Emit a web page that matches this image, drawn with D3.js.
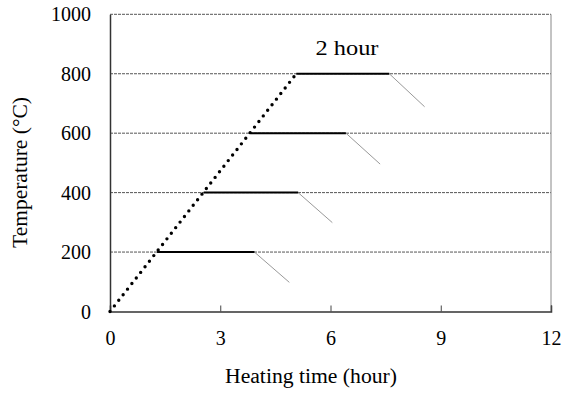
<!DOCTYPE html>
<html>
<head>
<meta charset="utf-8">
<script src="https://cdn.jsdelivr.net/npm/d3@7/dist/d3.min.js"></script>
<style>
  html, body { margin: 0; padding: 0; background: #fff; }
  svg { display: block; }
  text { font-family: "Liberation Serif", "Times New Roman", serif; fill: #000; }
</style>
</head>
<body>
<svg id="chart" width="563" height="393"></svg>
<script>
// Heating schedule: constant-rate ramp, then a hold at each target temperature, then cooling
const rampTime = [0, 5.07];
const rampTemp = [0, 800];
const holdTemps = [200, 400, 600, 800];
const holdStart = [1.28, 2.55, 3.83, 5.07];
const holdEnd = [3.93, 5.12, 6.42, 7.60];
const coolEndTime = [4.88, 6.05, 7.35, 8.56];
const coolEndTemp = [98, 299, 496, 689];
const xTicks = [0, 3, 6, 9, 12];
const yTicks = [0, 200, 400, 600, 800, 1000];
const holdLabel = "2 hour";

const svg = d3.select("#chart");
const plot = { left: 110, right: 551, top: 14.3, bottom: 311.5 };

const x = d3.scaleLinear().domain([0, 12]).range([plot.left, plot.right]);
const y = d3.scaleLinear().domain([0, 1000]).range([plot.bottom, plot.top]);

// dashed horizontal grid lines
svg.append("g").selectAll("line")
  .data(yTicks.filter(d => d > 0))
  .join("line")
  .attr("x1", plot.left).attr("x2", plot.right)
  .attr("y1", d => y(d)).attr("y2", d => y(d))
  .attr("stroke", "#555").attr("stroke-width", 1)
  .attr("stroke-dasharray", "3,1");

// right frame edge
svg.append("line")
  .attr("x1", plot.right).attr("x2", plot.right).attr("y1", plot.top).attr("y2", plot.bottom)
  .attr("stroke", "#888").attr("stroke-width", 1);

// x axis with inward ticks
const xAxis = svg.append("g")
  .attr("transform", `translate(0,${plot.bottom})`)
  .call(d3.axisBottom(x).tickValues(xTicks).tickSize(-6).tickPadding(0).tickFormat(d3.format("d")));
xAxis.select(".domain").attr("stroke", "#333").attr("stroke-width", 1.5);
xAxis.selectAll(".tick line").attr("stroke", "#444");
xAxis.selectAll(".tick text")
  .attr("y", 33.5).attr("dy", 0)
  .style("font-size", "20px").style("font-family", "Liberation Serif");

// y axis
const yAxis = svg.append("g")
  .attr("transform", `translate(${plot.left},0)`)
  .call(d3.axisLeft(y).tickValues(yTicks).tickSize(0).tickPadding(19).tickFormat(d3.format("d")));
yAxis.select(".domain").attr("stroke", "#333").attr("stroke-width", 1.5);
yAxis.selectAll(".tick text")
  .attr("dy", "0.33em")
  .style("font-size", "20px").style("font-family", "Liberation Serif");

// axis titles
svg.append("text")
  .attr("x", 311).attr("y", 383)
  .attr("text-anchor", "middle")
  .attr("textLength", 172).attr("lengthAdjust", "spacingAndGlyphs")
  .style("font-size", "20px")
  .text("Heating time (hour)");

svg.append("text")
  .attr("transform", "translate(27,172.5) rotate(-90)")
  .attr("text-anchor", "middle")
  .attr("textLength", 151).attr("lengthAdjust", "spacingAndGlyphs")
  .style("font-size", "20px")
  .text("Temperature (°C)");

const line = d3.line().x(d => x(d[0])).y(d => y(d[1]));

// cooling segments (thin grey)
svg.append("g").selectAll("path")
  .data(holdTemps.map((t, i) => [[holdEnd[i], t], [coolEndTime[i], coolEndTemp[i]]]))
  .join("path")
  .attr("d", line)
  .attr("fill", "none").attr("stroke", "#999").attr("stroke-width", 1);

// holding segments (thick black)
svg.append("g").selectAll("path")
  .data(holdTemps.map((t, i) => [[holdStart[i], t], [holdEnd[i], t]]))
  .join("path")
  .attr("d", line)
  .attr("fill", "none").attr("stroke", "#000").attr("stroke-width", 2);

// heating ramp (round dots)
svg.append("path")
  .attr("d", line(rampTime.map((t, i) => [t, rampTemp[i]])))
  .attr("fill", "none").attr("stroke", "#000").attr("stroke-width", 3.4)
  .attr("stroke-linecap", "round").attr("stroke-dasharray", "0,7.1");

svg.append("text")
  .attr("x", 347).attr("y", 54.5)
  .attr("text-anchor", "middle")
  .attr("textLength", 63).attr("lengthAdjust", "spacingAndGlyphs")
  .style("font-size", "21px")
  .text(holdLabel);
</script>
</body>
</html>
